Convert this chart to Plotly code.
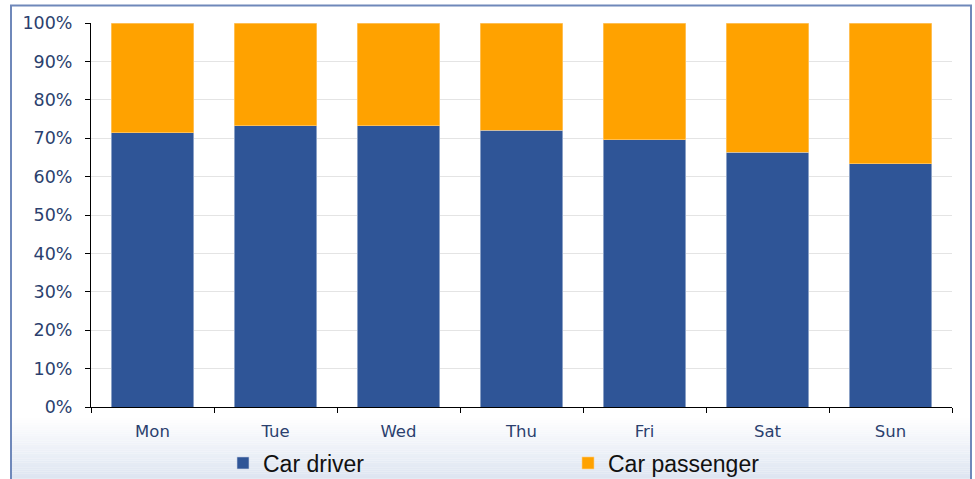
import plotly.graph_objects as go

days = ["Mon", "Tue", "Wed", "Thu", "Fri", "Sat", "Sun"]
car_driver = [71.4, 73.2, 73.2, 72.1, 69.6, 66.3, 63.4]
car_passenger = [28.6, 26.8, 26.8, 27.9, 30.4, 33.7, 36.6]
y_ticks = [0, 10, 20, 30, 40, 50, 60, 70, 80, 90, 100]
y_tick_labels = [f"{v}%" for v in y_ticks]

BLUE = "#2F5597"
ORANGE = "#FFA200"
TXT = "#2B3F6E"

fig = go.Figure()
fig.add_trace(go.Bar(name="Car driver", x=days, y=car_driver, marker=dict(color=BLUE, line=dict(color="#c9d3e6", width=0.6))))
fig.add_trace(go.Bar(name="Car passenger", x=days, y=car_passenger, marker=dict(color=ORANGE, line=dict(color="#ffd28a", width=0.6))))

# gradient footer + frame (pixel values relative to plot area: left 91, bottom 407, height 384)
shapes = []
n = 30
y_top_px, y_bot_px = 418, 485
H = 384.0
for i in range(n):
    a = y_top_px + (y_bot_px - y_top_px) * i / n
    b = y_top_px + (y_bot_px - y_top_px) * (i + 1) / n
    t = (i + 0.5) / n
    r = int(255 + (218 - 255) * t)
    g = int(255 + (226 - 255) * t)
    bl = int(255 + (240 - 255) * t)
    shapes.append(dict(type="rect", xref="paper", yref="paper", layer="below",
                       x0=(11 - 91) / 861, x1=(971 - 91) / 861,
                       y0=(407 - b) / H, y1=(407 - a) / H,
                       line=dict(width=0), fillcolor=f"rgb({r},{g},{bl})"))
shapes.append(dict(type="rect", xref="paper", yref="paper", layer="below",
                   x0=(11 - 91) / 861, x1=(971 - 91) / 861,
                   y0=(407 - 490) / H, y1=(407 - 5.5) / H,
                   line=dict(color="#6F88BA", width=2), fillcolor="rgba(0,0,0,0)"))

fig.update_layout(
    barmode="stack",
    bargap=0.333,
    width=975, height=479,
    margin=dict(l=91, r=23, t=23, b=72, autoexpand=False),
    paper_bgcolor="white", plot_bgcolor="white",
    font=dict(family="DejaVu Sans", color=TXT),
    shapes=shapes,
    legend=dict(orientation="h", x=(223 - 91) / 861, xanchor="left", yref="container", y=(479 - 463) / 479, yanchor="middle",
                font=dict(family="Liberation Sans Narrow, Liberation Sans", size=23, color="#111111"),
                entrywidth=300, entrywidthmode="pixels", bgcolor="rgba(0,0,0,0)",
                traceorder="normal", itemwidth=30),
    showlegend=True,
)
fig.update_xaxes(showline=True, linecolor="black", linewidth=1, ticks="outside", tickson="boundaries",
                 ticklen=5, tickcolor="black", tickfont=dict(size=16.5, color=TXT), showgrid=False,
                 ticklabelstandoff=9)
fig.update_yaxes(range=[0, 100], tickvals=y_ticks, ticktext=y_tick_labels, showline=True, linecolor="black",
                 linewidth=1, ticks="outside", ticklen=5, tickcolor="black", tickfont=dict(size=17.5, color=TXT),
                 showgrid=True, gridcolor="#E4E4E4", gridwidth=1, zeroline=False, ticklabelstandoff=9)

fig.write_html("out.html", config={"displayModeBar": False},
               post_script="document.body.style.margin='0';")
